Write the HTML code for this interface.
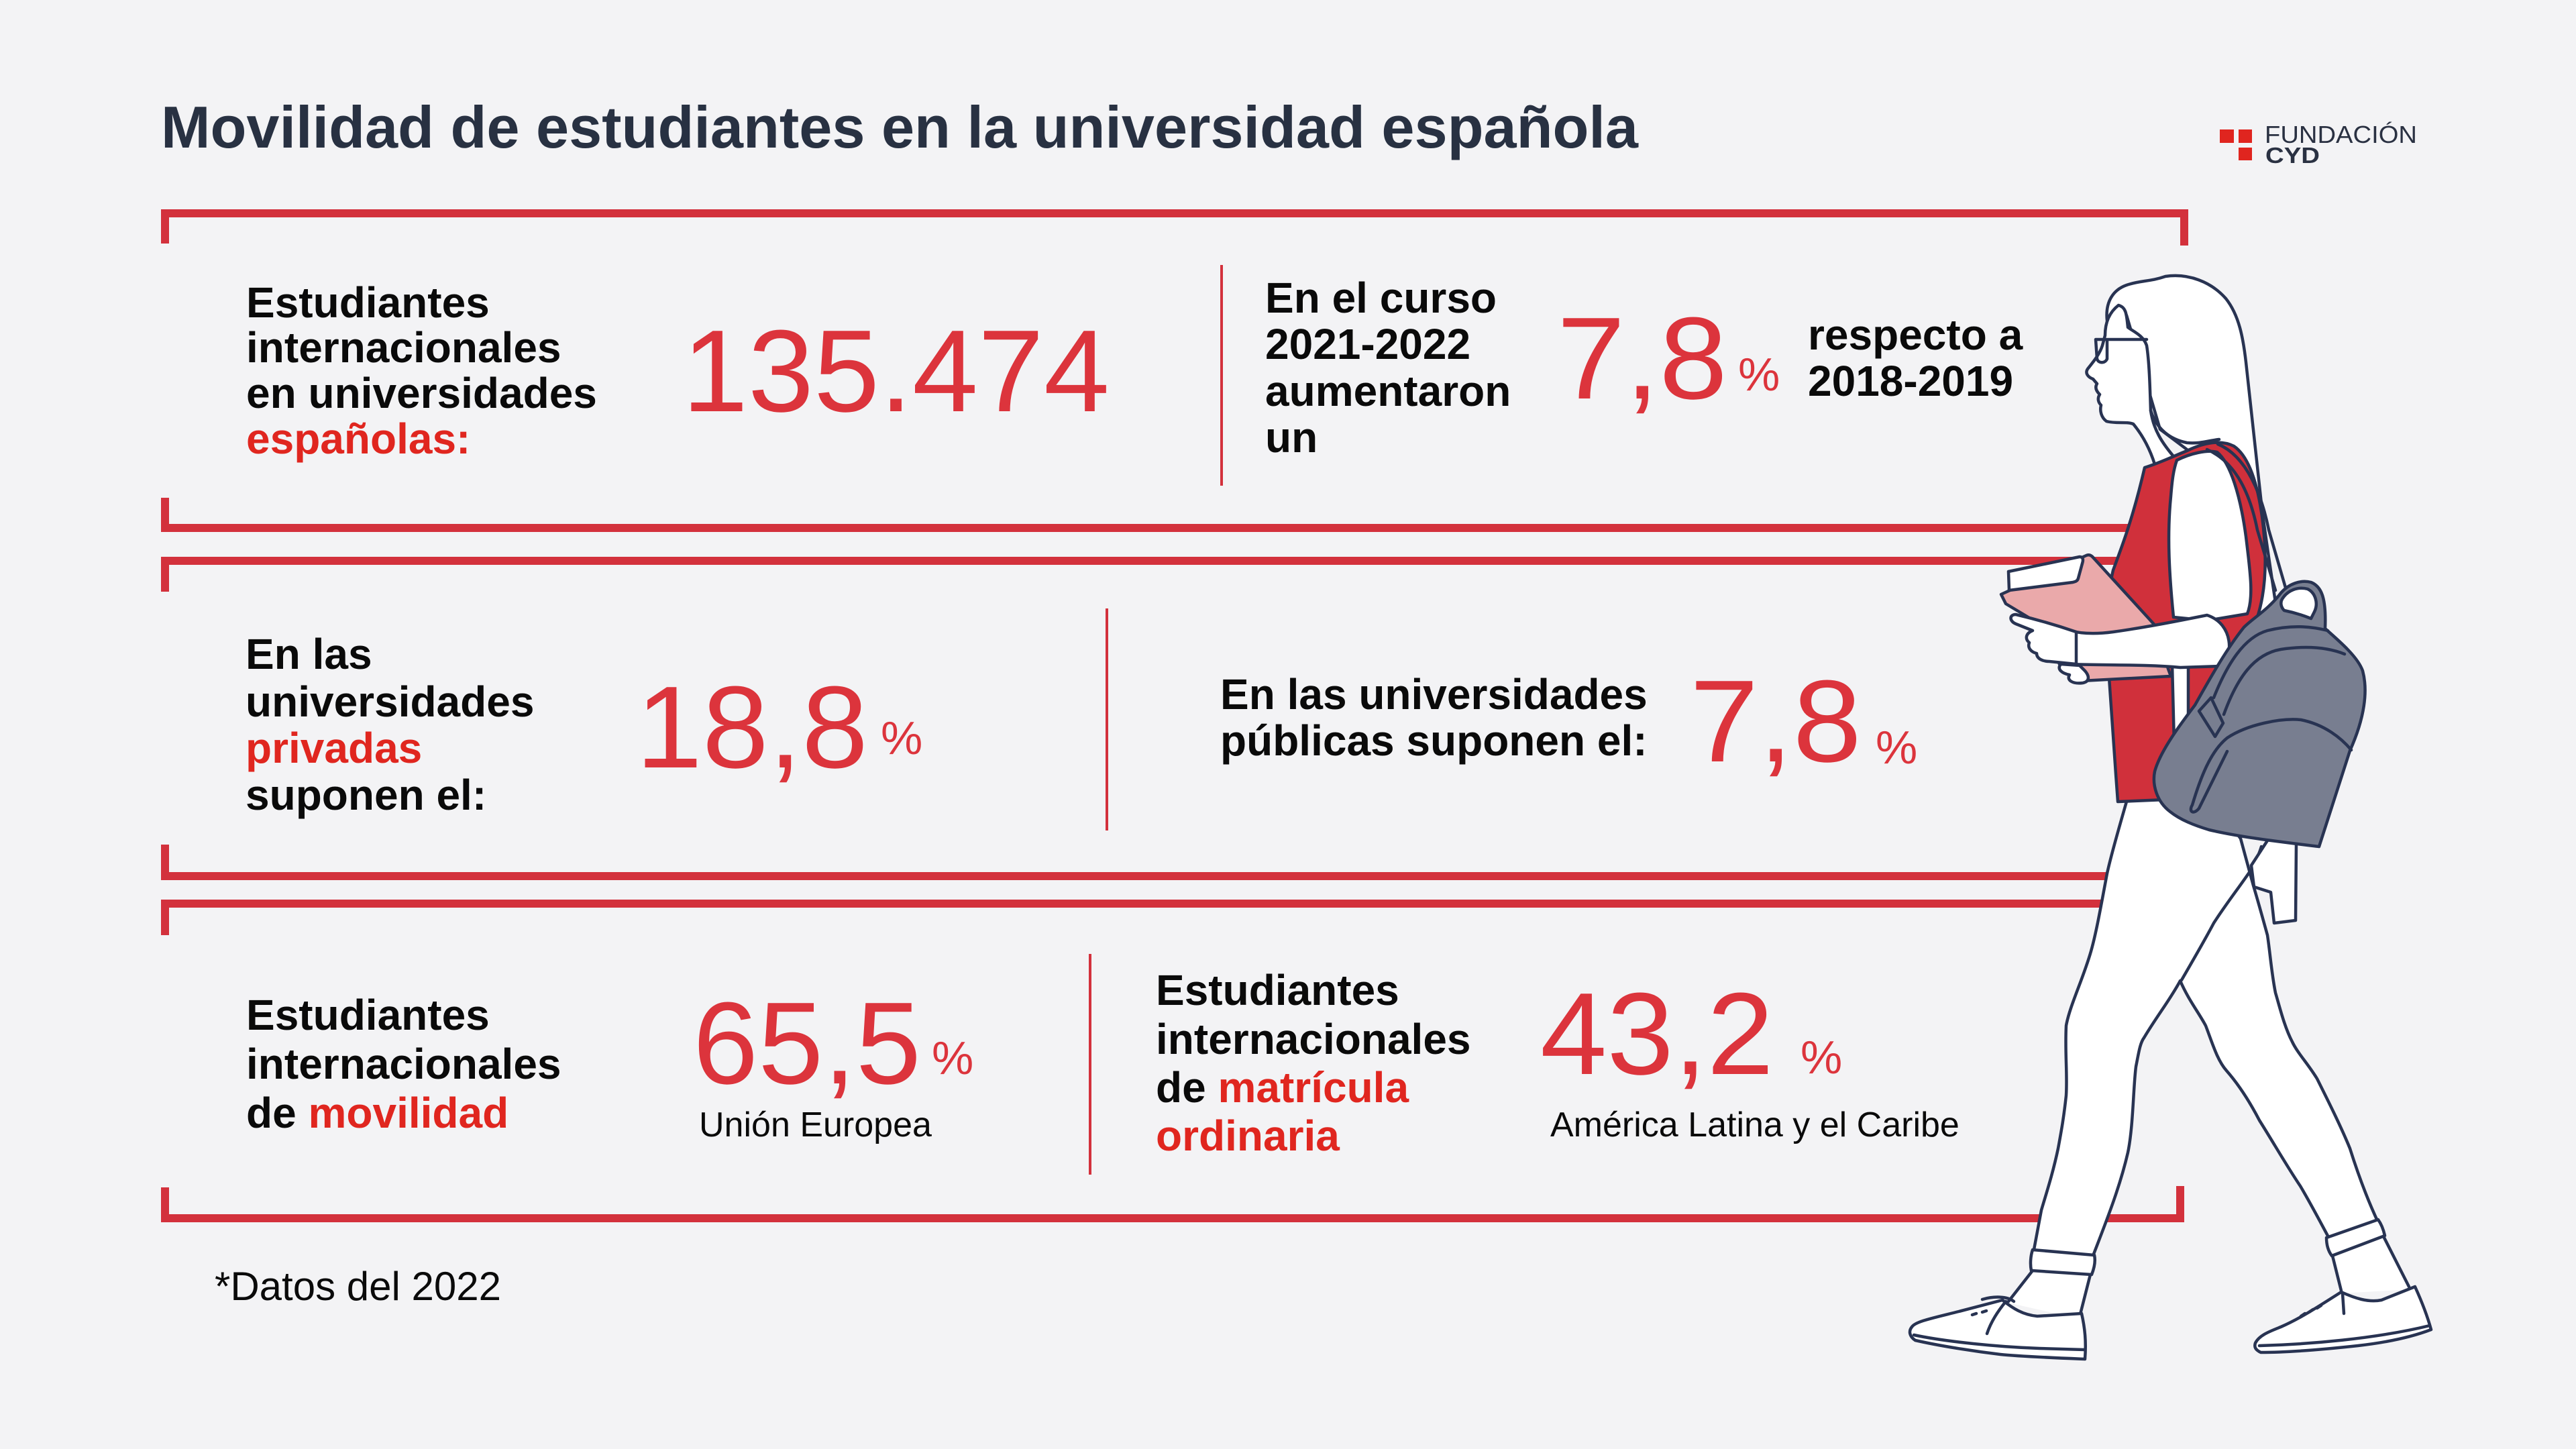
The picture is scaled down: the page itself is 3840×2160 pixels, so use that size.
<!DOCTYPE html>
<html><head><meta charset="utf-8">
<style>
html,body{margin:0;padding:0;background:#f3f3f5;}
svg{display:block;}
text{font-family:"Liberation Sans",Arial,sans-serif;}
.b{font-weight:bold;font-size:64px;fill:#0a0a0a;}
.r{fill:#e0261f;}
.n{font-size:174px;fill:#dc343c;}
.p{font-size:70px;fill:#dc343c;}
.s{font-size:52px;fill:#0a0a0a;}
.ol{stroke:#283352;stroke-width:4.5;stroke-linejoin:round;stroke-linecap:round;}
</style></head>
<body>
<svg width="3840" height="2160" viewBox="0 0 3840 2160" xmlns="http://www.w3.org/2000/svg">
<rect width="3840" height="2160" fill="#f3f3f5"/>

<!-- Title -->
<text x="240" y="220" font-size="88" font-weight="bold" fill="#283142" textLength="2202" lengthAdjust="spacingAndGlyphs">Movilidad de estudiantes en la universidad española</text>

<!-- Logo -->
<rect x="3309" y="193" width="21" height="20" fill="#e0251f"/>
<rect x="3337" y="193" width="20" height="20" fill="#e0251f"/>
<rect x="3337" y="220" width="20" height="19" fill="#e0251f"/>
<text x="3376" y="213" font-size="36" fill="#2a3142" textLength="227" lengthAdjust="spacingAndGlyphs">FUNDACIÓN</text>
<text x="3377" y="243" font-size="33" font-weight="bold" fill="#2a3142" textLength="81" lengthAdjust="spacingAndGlyphs">CYD</text>

<!-- Frames -->
<g fill="#d3313c">
  <rect x="240" y="312" width="3022" height="12"/>
  <rect x="240" y="312" width="12" height="51"/>
  <rect x="3250" y="312" width="12" height="54"/>
  <rect x="240" y="781" width="2980" height="12"/>
  <rect x="240" y="742" width="12" height="51"/>
  <rect x="240" y="830" width="2960" height="12"/>
  <rect x="240" y="830" width="12" height="52"/>
  <rect x="240" y="1300" width="2960" height="12"/>
  <rect x="240" y="1259" width="12" height="53"/>
  <rect x="240" y="1341" width="2960" height="12"/>
  <rect x="240" y="1341" width="12" height="53"/>
  <rect x="240" y="1810" width="3016" height="12"/>
  <rect x="240" y="1770" width="12" height="52"/>
  <rect x="3244" y="1768" width="12" height="54"/>
</g>

<!-- Dividers -->
<g fill="#d3313c">
  <rect x="1819" y="395" width="4" height="329"/>
  <rect x="1648" y="907" width="4" height="331"/>
  <rect x="1623" y="1422" width="4" height="329"/>
</g>

<!-- Box 1 -->
<text class="b" x="367" y="473">Estudiantes</text>
<text class="b" x="367" y="540">internacionales</text>
<text class="b" x="367" y="608">en universidades</text>
<text class="b r" x="367" y="676">españolas:</text>
<text class="n" x="1017" y="613" textLength="637" lengthAdjust="spacingAndGlyphs">135.474</text>

<text class="b" x="1886" y="466">En el curso</text>
<text class="b" x="1886" y="535">2021-2022</text>
<text class="b" x="1886" y="605">aumentaron</text>
<text class="b" x="1886" y="674">un</text>
<text class="n" x="2321" y="594" font-size="172" textLength="254" lengthAdjust="spacingAndGlyphs">7,8</text>
<text class="p" x="2591" y="582" font-size="68">%</text>
<text class="b" x="2695" y="521">respecto a</text>
<text class="b" x="2695" y="590">2018-2019</text>

<!-- Box 2 -->
<text class="b" x="366" y="997">En las</text>
<text class="b" x="366" y="1068">universidades</text>
<text class="b r" x="366" y="1137">privadas</text>
<text class="b" x="366" y="1207">suponen el:</text>
<text class="n" x="948" y="1144" font-size="177" textLength="346" lengthAdjust="spacingAndGlyphs">18,8</text>
<text class="p" x="1313" y="1124">%</text>

<text class="b" x="1819" y="1057">En las universidades</text>
<text class="b" x="1819" y="1126">públicas suponen el:</text>
<text class="n" x="2519" y="1135" font-size="174" textLength="256" lengthAdjust="spacingAndGlyphs">7,8</text>
<text class="p" x="2796" y="1138">%</text>

<!-- Box 3 -->
<text class="b" x="367" y="1535">Estudiantes</text>
<text class="b" x="367" y="1608">internacionales</text>
<text class="b" x="367" y="1681">de <tspan class="r">movilidad</tspan></text>
<text class="n" x="1033" y="1615" font-size="178" textLength="340" lengthAdjust="spacingAndGlyphs">65,5</text>
<text class="p" x="1389" y="1601">%</text>
<text class="s" x="1042" y="1694">Unión Europea</text>

<text class="b" x="1723" y="1498">Estudiantes</text>
<text class="b" x="1723" y="1571">internacionales</text>
<text class="b" x="1723" y="1643">de <tspan class="r">matrícula</tspan></text>
<text class="b r" x="1723" y="1715">ordinaria</text>
<text class="n" x="2296" y="1601" font-size="175" textLength="348" lengthAdjust="spacingAndGlyphs">43,2</text>
<text class="p" x="2684" y="1600">%</text>
<text class="s" x="2311" y="1694">América Latina y el Caribe</text>

<!-- Footnote -->
<text x="320" y="1938" font-size="60" fill="#0a0a0a">*Datos del 2022</text>

<!-- Girl illustration -->
<g class="ol">
  <path fill="#ffffff" d="M3141,478 C3138,450 3150,432 3170,425 C3190,418 3205,420 3228,412 C3262,407 3296,420 3318,445 C3338,470 3344,505 3348,540 C3356,610 3364,690 3372,760 C3380,820 3388,870 3396,925 L3330,925 L3300,700 L3220,640 L3170,470 Z"/>
  <path fill="#ffffff" d="M3172,1188 C3160,1230 3148,1270 3141,1302 C3132,1350 3125,1390 3117,1418 C3105,1460 3085,1500 3080,1529 C3078,1570 3082,1600 3080,1633 C3076,1670 3072,1690 3068,1712 C3060,1750 3050,1780 3043,1804 L3031,1868 L3120,1872 C3140,1820 3160,1770 3172,1718 C3180,1680 3180,1620 3184,1590 C3188,1570 3190,1555 3196,1547 C3215,1515 3235,1490 3250,1462 C3262,1490 3278,1510 3288,1529 C3298,1555 3305,1580 3319,1596 C3340,1620 3355,1645 3368,1670 C3390,1705 3410,1740 3429,1768 C3445,1795 3458,1820 3472,1846 L3545,1822 C3530,1790 3515,1750 3503,1712 C3490,1680 3470,1640 3454,1608 C3440,1585 3425,1570 3417,1553 C3405,1530 3398,1500 3392,1480 C3386,1450 3384,1420 3380,1394 C3372,1365 3365,1340 3359,1320 L3340,1250 L3300,1195 Z"/>
  <path fill="none" d="M3252,1461 C3270,1430 3290,1395 3300,1376 C3320,1345 3340,1320 3356,1296 C3362,1285 3368,1272 3371,1262"/>
  <path fill="#ffffff" stroke="none" d="M3030,1892 L2994,1942 L3100,1966 L3117,1898 Z"/>
  <path fill="none" d="M3030,1894 L2994,1940 M3116,1900 L3100,1963"/>
  <path fill="#ffffff" stroke="none" d="M3476,1870 L3490,1928 L3594,1922 L3553,1840 Z"/>
  <path fill="none" d="M3477,1872 L3490,1924 M3552,1841 L3591,1918"/>
  <path fill="#ffffff" d="M3030,1863 L3122,1871 C3124,1880 3122,1890 3118,1900 L3028,1894 C3026,1884 3027,1872 3030,1863 Z"/>
  <path fill="#ffffff" d="M3468,1845 L3545,1818 C3550,1825 3553,1833 3555,1842 L3476,1872 C3470,1864 3468,1855 3468,1845 Z"/>
  <path fill="#ffffff" d="M2850,1978 C2855,1970 2880,1965 2920,1955 L2985,1938 C3000,1950 3015,1960 3037,1962 L3103,1958 C3108,1980 3110,2000 3108,2026 C3060,2024 3010,2022 2982,2019 C2940,2014 2890,2006 2855,1998 C2846,1992 2845,1984 2850,1978 Z"/>
  <path fill="none" d="M2853,1990 C2900,2000 2980,2008 3040,2010 L3108,2012 M2990,1940 C2978,1955 2968,1970 2962,1988 M2955,1937 C2972,1932 2992,1932 3002,1940 M2940,1960 L2946,1958 M2955,1956 L2961,1954"/>
  <path fill="#ffffff" d="M3362,2002 C3368,1990 3385,1984 3400,1978 C3430,1965 3460,1945 3490,1926 C3510,1935 3530,1942 3550,1938 L3600,1918 C3610,1940 3618,1960 3624,1982 C3590,1995 3550,2002 3515,2006 C3460,2012 3410,2016 3370,2016 C3362,2012 3360,2008 3362,2002 Z"/>
  <path fill="none" d="M3368,2006 C3440,2004 3540,1996 3622,1976 M3492,1928 L3494,1958 M3430,1962 L3436,1958 M3442,1956 L3448,1952 M3454,1950 L3460,1946"/>
  <path fill="#ffffff" d="M3158,455 C3145,465 3138,480 3138,500 L3134,515 C3130,528 3120,540 3112,550 C3108,556 3112,562 3120,565 L3126,572 C3122,578 3126,584 3130,588 C3126,594 3128,600 3132,604 C3130,612 3132,622 3140,628 C3155,632 3170,628 3180,632 C3195,650 3205,670 3212,692 L3245,686 C3222,660 3210,640 3206,612 C3205,580 3204,540 3200,515 C3195,500 3180,494 3172,488 C3170,470 3170,458 3158,455 Z"/>
  <path fill="none" d="M3206,612 C3215,640 3235,655 3260,660 C3280,662 3295,656 3308,655"/>
  <path fill="none" d="M3124,506 L3200,506 M3124,506 L3126,535 C3128,542 3138,542 3141,535 L3141,508"/>
  <path fill="#d0303b" d="M3197,697 C3220,690 3240,680 3260,672 C3285,660 3310,655 3330,665 C3352,680 3365,720 3372,770 C3380,830 3378,880 3365,920 L3320,1010 C3300,1060 3280,1120 3228,1192 L3157,1195 C3152,1130 3148,1060 3144,1010 C3140,960 3138,900 3150,850 C3165,810 3180,770 3197,697 Z"/>
  <path fill="#ffffff" d="M3245,686 C3265,676 3290,670 3305,674 C3325,690 3340,740 3348,800 C3354,850 3360,890 3350,915 L3290,925 L3240,920 C3234,860 3230,800 3236,740 C3238,715 3240,700 3245,686 Z"/>
  <path fill="#ffffff" d="M3238,990 L3262,990 L3262,1110 L3241,1110 Z"/>
  <path fill="none" d="M3290,670 C3335,690 3355,740 3365,790 L3392,880 M3306,662 C3350,680 3372,740 3382,790 L3407,876"/>
  <path fill="#eaa9aa" d="M2983,886 L3110,828 C3114,826 3118,828 3121,832 L3215,935 L3232,997 L3236,1008 L3103,1015 L3070,990 L3040,930 L2990,900 Z"/>
  <path fill="#ffffff" d="M2994,852 L3100,830 C3105,830 3106,834 3104,840 L3098,862 C3097,866 3094,867 3090,868 L2995,880 Z"/>
  <path fill="#ffffff" d="M3290,917 C3250,925 3200,935 3150,942 C3120,946 3100,944 3085,940 L3085,990 C3130,992 3200,990 3250,995 L3310,993 C3330,980 3330,930 3290,917 Z"/>
  <path fill="#ffffff" d="M3095,942 C3060,930 3030,922 3005,916 C2995,916 2995,926 3005,930 L3030,940 C3020,944 3018,952 3025,958 C3022,966 3028,972 3036,974 C3036,982 3045,986 3055,986 L3095,990 Z"/>
  <path fill="#ffffff" d="M3072,990 C3065,998 3075,1004 3085,1006 C3080,1014 3090,1020 3105,1018 C3115,1016 3115,1008 3108,1000 L3100,992 Z"/>
  <path fill="#ffffff" d="M3382,1250 L3423,1256 L3422,1372 L3390,1376 L3385,1330 L3360,1322 L3356,1290 Z"/>
  <path fill="#787e90" d="M3400,884 C3412,870 3430,864 3445,868 C3460,874 3468,890 3466,937 C3490,958 3515,980 3522,1000 C3530,1030 3525,1070 3503,1119 L3457,1262 C3400,1255 3340,1248 3293,1237 C3270,1230 3250,1222 3235,1210 C3215,1195 3208,1170 3212,1150 C3220,1120 3250,1080 3272,1051 C3295,1010 3320,966 3345,935 C3360,920 3380,910 3400,884 Z"/>
  <path fill="#ffffff" d="M3402,893 C3410,880 3425,874 3440,878 C3452,884 3456,900 3450,912 L3445,922 C3430,916 3415,912 3405,910 C3400,905 3399,898 3402,893 Z"/>
  <path fill="none" d="M3300,1040 C3320,990 3345,950 3380,940 C3420,930 3450,935 3470,940 M3315,1065 C3335,1010 3360,975 3400,968 C3440,962 3470,965 3495,975 M3268,1200 C3280,1160 3295,1120 3320,1100 C3350,1080 3400,1070 3430,1073 C3465,1080 3490,1100 3505,1118 M3268,1200 C3262,1210 3270,1215 3278,1205 L3320,1120"/>
  <path fill="#787e90" d="M3278,1060 L3296,1040 L3314,1078 L3302,1098 Z"/>
</g>
</svg>
</body></html>
